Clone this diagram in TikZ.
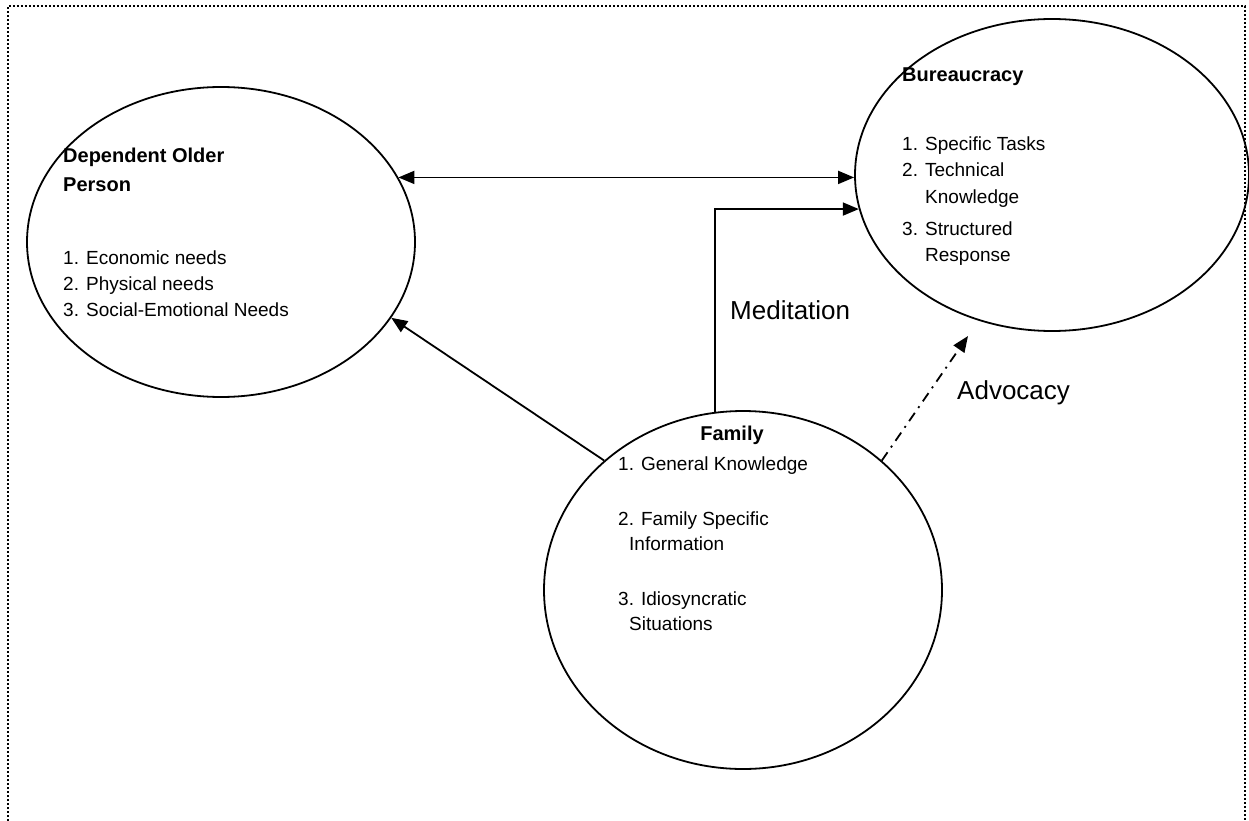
\documentclass[tikz,border=0pt]{standalone}
\usepackage{fontspec}
\setmainfont{Liberation Sans}
\usetikzlibrary{shapes.geometric,arrows.meta}
\begin{document}
\begin{tikzpicture}[x=1pt,y=-1pt,
  >={Triangle[length=16pt,width=13pt]},
  oval/.style={draw,ellipse,line width=1.8pt,inner sep=0pt},
  txt/.style={anchor=base west,inner sep=0pt,font=\fontsize{19}{23}\selectfont},
  ttl/.style={txt,font=\fontsize{20}{24}\selectfont\bfseries},
  lbl/.style={txt,font=\fontsize{26}{30}\selectfont},
  link/.style={line width=1.8pt,->},
  dashdot/.style={dash pattern=on 10pt off 6pt on 2pt off 6pt},
]
\useasboundingbox (0,0) rectangle (1249,821);
% dotted frame, open at the bottom
\draw[line width=1.5pt,dash pattern=on 2pt off 2pt] (8,821) -- (8,6) -- (1245,6) -- (1245,821);

% the three actors
\node[oval,minimum width=388pt,minimum height=310pt] (dop) at (221,242) {};
\node[oval,minimum width=394pt,minimum height=312pt] (bur) at (1052,175) {};
\node[oval,minimum width=398pt,minimum height=358pt] (fam) at (743,590) {};

% Dependent Older Person
\node[ttl] (dopT1) at (63,163) {Dependent Older};
\node[ttl] (dopT2) at (63,192) {Person};
\node[txt] (dop1) at (63,264) {1. Economic needs};
\node[txt] (dop2) at (63,290) {2. Physical needs};
\node[txt] (dop3) at (63,316) {3. Social-Emotional Needs};

% Bureaucracy
\node[ttl] (burT) at (902,82) {Bureaucracy};
\node[txt] (bur1) at (902,151) {1. Specific Tasks};
\node[txt] (bur2) at (902,177) {2. Technical};
\node[txt] (bur2b) at (925,203) {Knowledge};
\node[txt] (bur3) at (902,235) {3. Structured};
\node[txt] (bur3b) at (925,261) {Response};

% Family
\node[ttl,anchor=base] (famT) at (732,440) {Family};
\node[txt] (fam1) at (618,470) {1. General Knowledge};
\node[txt] (fam2) at (618,525) {2. Family Specific};
\node[txt] (fam2b) at (629,550) {Information};
\node[txt] (fam3) at (618,605) {3. Idiosyncratic};
\node[txt] (fam3b) at (629,630) {Situations};

% edge labels
\node[lbl] (med) at (730,319) {Meditation};
\node[lbl] (adv) at (957,399) {Advocacy};

% connectors
\draw[line width=1.8pt,<->] (dop.20.6) -- (bur.west |- dop.20.6);
\draw[link] (fam.99) |- (bur.190.6);
\draw[link] (fam.137) -- (dop.-24.4);
\coordinate (advtip) at (968,336);
\draw[link,dashdot] (fam.43.6) -- (advtip);
\end{tikzpicture}
\end{document}
